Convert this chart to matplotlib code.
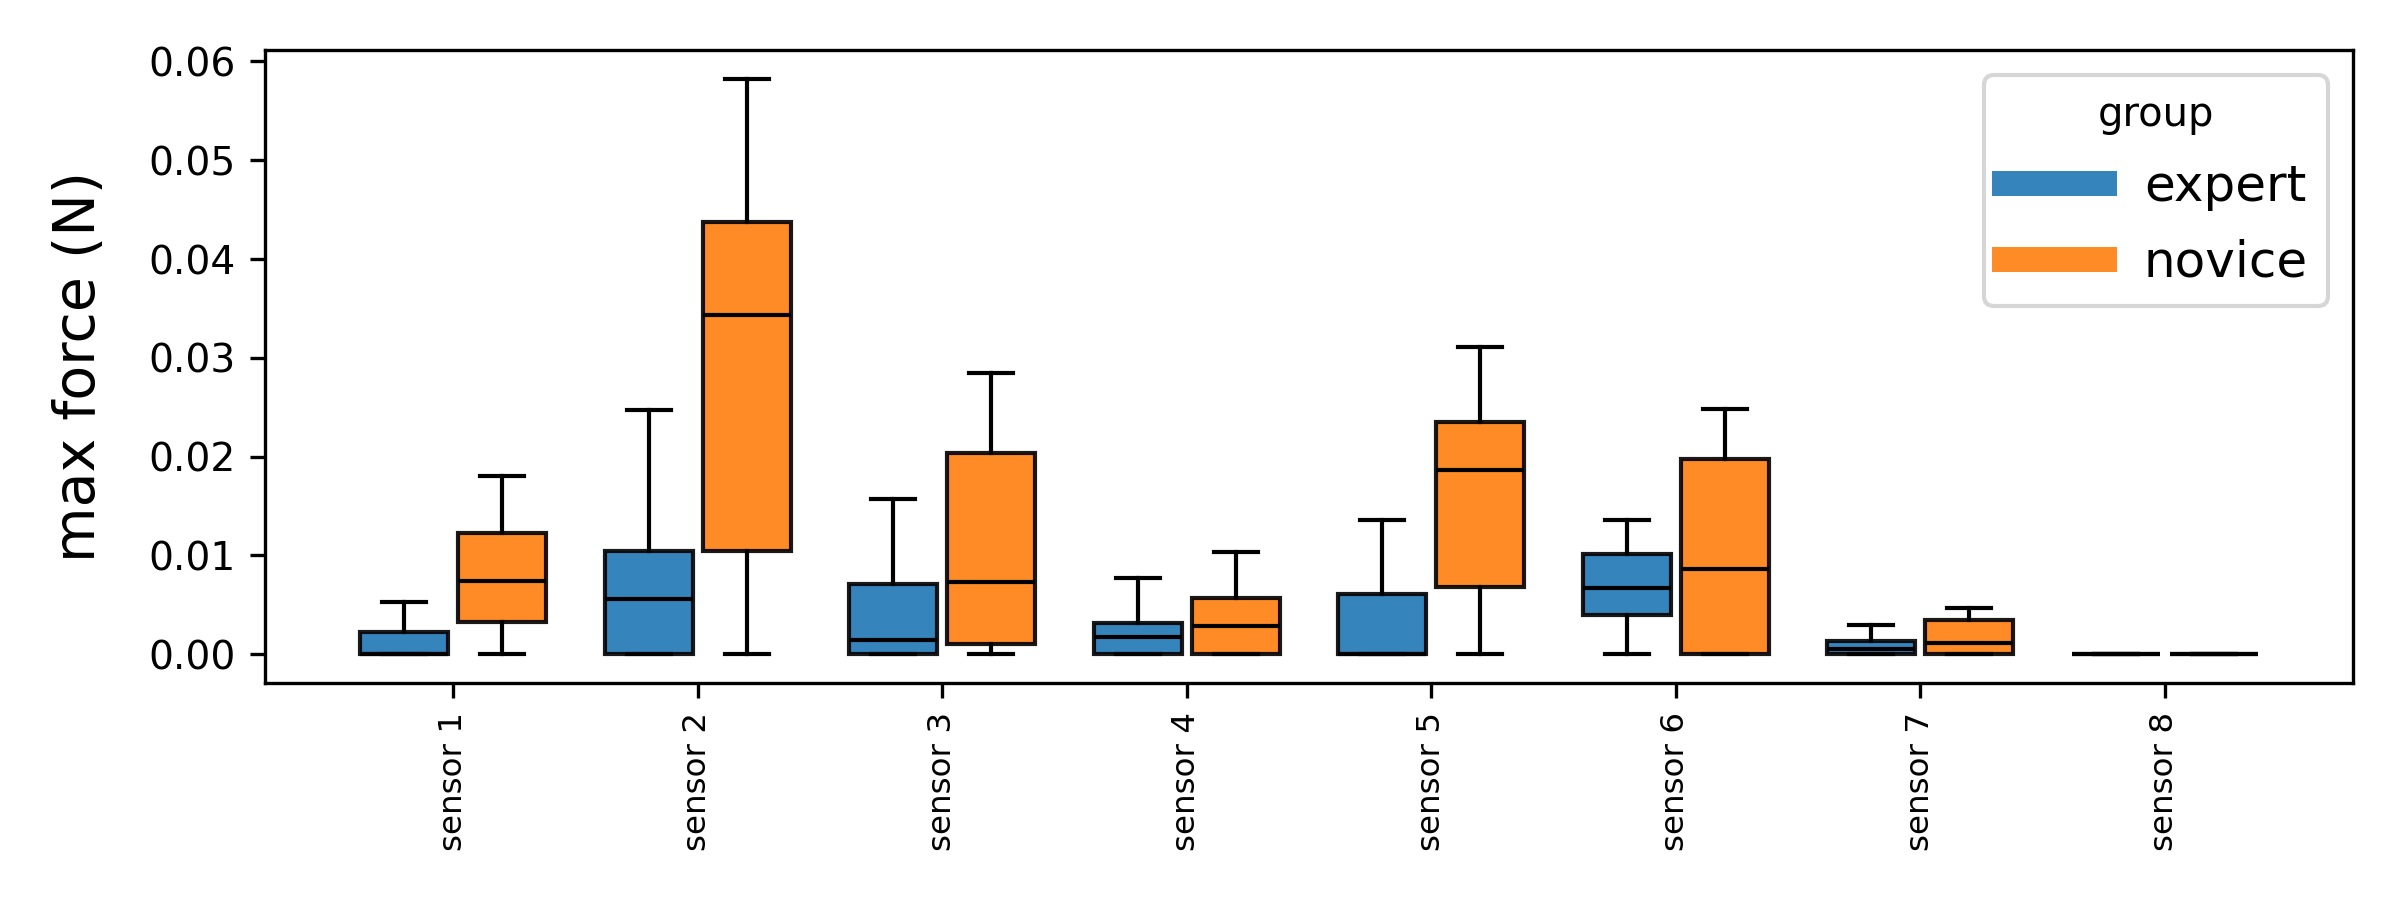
import numpy as np
import matplotlib.pyplot as plt
from matplotlib.lines import Line2D

sensors = ['sensor 1', 'sensor 2', 'sensor 3', 'sensor 4',
           'sensor 5', 'sensor 6', 'sensor 7', 'sensor 8']
groups = ['expert', 'novice']
colors = ['#1f77b4', '#ff7f0e']

# box stats (no fliers shown)
expert_lo = [0, 0, 0, 0, 0, 0, 0, 0]
expert_q1 = [0, 0, 0, 0, 0, 0.0040, 0, 0]
expert_med = [0, 0.0056, 0.00145, 0.00175, 0, 0.0067, 0.0005, 0]
expert_q3 = [0.00226, 0.01044, 0.0071, 0.0032, 0.0061, 0.0101, 0.00138, 0]
expert_hi = [0.0053, 0.0247, 0.0157, 0.0077, 0.0136, 0.0136, 0.0030, 0]

novice_lo = [0, 0, 0, 0, 0, 0, 0, 0]
novice_q1 = [0.00327, 0.01044, 0.00108, 0, 0.00684, 0, 0, 0]
novice_med = [0.0074, 0.0343, 0.0073, 0.00286, 0.0186, 0.00865, 0.00118, 0]
novice_q3 = [0.0123, 0.0438, 0.0204, 0.0057, 0.0235, 0.0198, 0.00343, 0]
novice_hi = [0.0180, 0.0582, 0.0285, 0.0103, 0.0311, 0.0248, 0.0047, 0]

data = {
    'expert': (expert_lo, expert_q1, expert_med, expert_q3, expert_hi),
    'novice': (novice_lo, novice_q1, novice_med, novice_q3, novice_hi),
}

fig, ax = plt.subplots(figsize=(8, 3), dpi=300)
fig.subplots_adjust(left=0.1104, right=0.9804, top=0.9439, bottom=0.2411)

x = np.arange(len(sensors))
offsets = [-0.2, 0.2]
for g, c, off in zip(groups, colors, offsets):
    lo, q1, med, q3, hi = data[g]
    stats = []
    for i in range(len(sensors)):
        stats.append(dict(whislo=lo[i], q1=q1[i], med=med[i], q3=q3[i],
                          whishi=hi[i], fliers=[]))
    ax.bxp(stats, positions=x + off, widths=0.36, capwidths=0.18,
           patch_artist=True, showfliers=False, manage_ticks=False,
           boxprops=dict(facecolor=c, edgecolor='black', alpha=0.9, linewidth=1),
           whiskerprops=dict(color='black', linewidth=1),
           capprops=dict(color='black', linewidth=1),
           medianprops=dict(color='black', linewidth=1))

ax.set_xticks(x)
ax.set_xticklabels(sensors, rotation=90, fontsize=7.8)
ax.tick_params(axis='y', labelsize=9.4)
ax.set_xlim(-0.77, 7.77)
ax.set_ylim(-0.00291, 0.06111)
ax.set_yticks([0, 0.01, 0.02, 0.03, 0.04, 0.05, 0.06])
ax.set_ylabel('max force (N)', fontsize=13.7, labelpad=10)

handles = [Line2D([0], [0], color=c, lw=6, alpha=0.9) for c in colors]
ax.legend(handles, groups, title='group', fontsize=12, title_fontsize=9.6,
          labelspacing=0.55, loc='upper right')

fig.savefig('out.png', dpi=300)
